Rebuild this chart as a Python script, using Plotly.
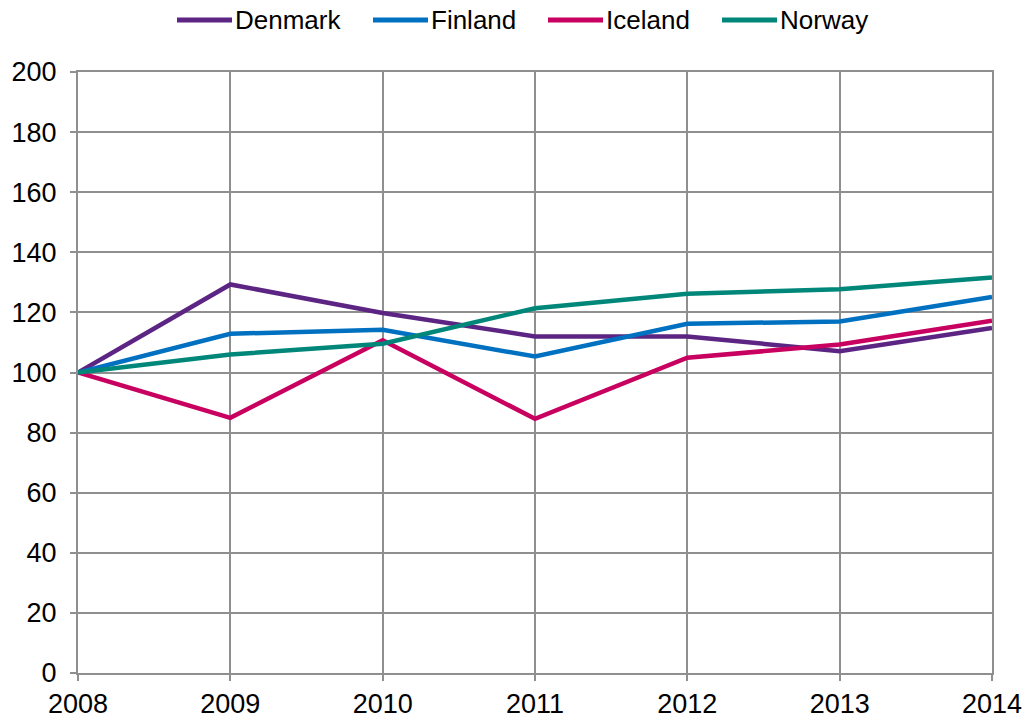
import plotly.graph_objects as go

years = [2008, 2009, 2010, 2011, 2012, 2013, 2014]
denmark = [100, 129.3, 119.8, 112.0, 112.0, 107.1, 114.8]
finland = [100, 112.9, 114.2, 105.3, 116.2, 117.0, 125.1]
iceland = [100, 84.9, 110.7, 84.6, 104.9, 109.3, 117.2]
norway = [100, 106.0, 109.6, 121.4, 126.2, 127.7, 131.6]

names = ["Denmark", "Finland", "Iceland", "Norway"]
values = [denmark, finland, iceland, norway]
colors = ["#5C2483", "#0070C0", "#C8005F", "#00877A"]

W, H = 1026, 718
ML, MR, MT, MB = 78, 34, 72, 45
PW, PH = W - ML - MR, H - MT - MB

def px_x(fx):
    return (fx - ML) / PW

def px_y(fy):
    return (H - MB - fy) / PH

fig = go.Figure()
for name, vals, col in zip(names, values, colors):
    fig.add_trace(go.Scatter(x=years, y=vals, name=name, mode="lines",
                             line=dict(color=col, width=4.5), showlegend=False))

# manual legend (positions in figure pixels)
leg_line_start = [177, 373, 548, 722]
leg_line_len = 55
leg_y = 20
for name, col, x0 in zip(names, colors, leg_line_start):
    fig.add_shape(type="line", xref="paper", yref="paper",
                  x0=px_x(x0), x1=px_x(x0 + leg_line_len),
                  y0=px_y(leg_y), y1=px_y(leg_y),
                  line=dict(color=col, width=5))
    fig.add_annotation(text=name, xref="paper", yref="paper",
                       x=px_x(x0 + leg_line_len + 2), y=px_y(leg_y),
                       xanchor="left", yanchor="middle", showarrow=False,
                       borderpad=0,
                       font=dict(size=26, color="black"))

grid = "#8f8f8f"
fig.update_layout(
    width=W, height=H,
    margin=dict(l=ML, r=MR, t=MT, b=MB, autoexpand=False),
    paper_bgcolor="white", plot_bgcolor="white",
    font=dict(family="Liberation Sans, Arial, sans-serif", size=26, color="black"),
    showlegend=False,
)
fig.update_xaxes(range=[2008, 2014], tickvals=years, ticktext=[str(y) for y in years],
                 showgrid=True, gridcolor=grid, gridwidth=2,
                 showline=True, linecolor=grid, linewidth=2, mirror=True,
                 ticks="outside", ticklen=6, tickcolor=grid, tickwidth=2,
                 automargin=False,
                 zeroline=False, tickfont=dict(size=27))
fig.update_yaxes(range=[0, 200], dtick=20, tick0=0,
                 showgrid=True, gridcolor=grid, gridwidth=2,
                 showline=True, linecolor=grid, linewidth=2, mirror=True,
                 ticks="outside", ticklen=6, tickcolor=grid, tickwidth=2,
                 ticklabelstandoff=8, automargin=False,
                 zeroline=False, tickfont=dict(size=27))

fig.write_html("out.html", config={"displayModeBar": False},
               post_script="document.body.style.margin='0';document.body.style.overflow='hidden';")
